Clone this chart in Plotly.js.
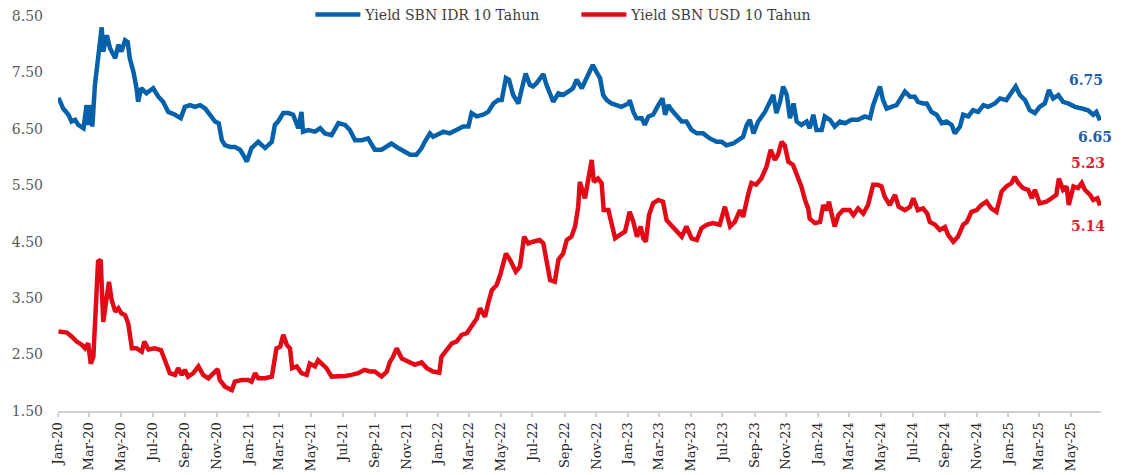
<!DOCTYPE html>
<html>
<head>
<meta charset="utf-8">
<script src="https://cdn.plot.ly/plotly-3.0.1.min.js"></script>
<style>
html,body{margin:0;padding:0;background:#fff;}
#chart{width:1127px;height:475px;}
</style>
</head>
<body>
<div id="chart"></div>
<script>
const idrName = "Yield SBN IDR 10 Tahun";
const usdName = "Yield SBN USD 10 Tahun";

const idrDates = [
'2020-01-02','2020-01-11','2020-01-21','2020-01-27','2020-02-03','2020-02-09','2020-02-19','2020-02-25','2020-02-28','2020-03-04',
'2020-03-07','2020-03-12','2020-03-18','2020-03-25','2020-03-28','2020-04-04','2020-04-10','2020-04-20','2020-04-26','2020-05-02',
'2020-05-09','2020-05-14','2020-05-18','2020-05-25','2020-05-31','2020-06-03','2020-06-09','2020-06-19','2020-07-02','2020-07-12',
'2020-07-21','2020-07-31','2020-08-13','2020-08-24','2020-09-01','2020-09-11','2020-09-20','2020-09-30','2020-10-10','2020-10-19',
'2020-10-29','2020-11-05','2020-11-11','2020-11-17','2020-11-27','2020-12-06','2020-12-16','2020-12-22','2020-12-29','2021-01-07',
'2021-01-20','2021-02-02','2021-02-15','2021-02-21','2021-02-27','2021-03-09','2021-03-19','2021-03-28','2021-04-07','2021-04-13',
'2021-04-16','2021-04-26','2021-05-09','2021-05-19','2021-05-28','2021-06-10','2021-06-23','2021-07-06','2021-07-15','2021-07-25',
'2021-08-07','2021-08-19','2021-09-01','2021-09-14','2021-09-24','2021-10-03','2021-10-16','2021-10-26','2021-11-08','2021-11-20',
'2021-11-30','2021-12-06','2021-12-16','2021-12-22','2022-01-11','2022-01-23','2022-02-05','2022-02-18','2022-02-28','2022-03-06',
'2022-03-16','2022-03-28','2022-04-07','2022-04-17','2022-04-26','2022-05-03','2022-05-11','2022-05-17','2022-05-25','2022-06-04',
'2022-06-10','2022-06-18','2022-06-26','2022-07-02','2022-07-09','2022-07-22','2022-07-28','2022-08-04','2022-08-10','2022-08-20',
'2022-08-29','2022-09-08','2022-09-17','2022-09-24','2022-10-04','2022-10-10','2022-10-16','2022-10-25','2022-11-01','2022-11-08',
'2022-11-14','2022-11-21','2022-11-30','2022-12-10','2022-12-19','2023-01-02','2023-01-04','2023-01-11','2023-01-17','2023-01-27',
'2023-02-02','2023-02-09','2023-02-18','2023-02-28','2023-03-08','2023-03-13','2023-03-19','2023-03-26','2023-04-04','2023-04-14',
'2023-04-23','2023-05-03','2023-05-13','2023-05-25','2023-06-07','2023-06-20','2023-06-30','2023-07-09','2023-07-22','2023-08-01',
'2023-08-10','2023-08-17','2023-08-23','2023-08-30','2023-09-08','2023-09-21','2023-09-30','2023-10-07','2023-10-13','2023-10-20',
'2023-10-26','2023-11-02','2023-11-08','2023-11-15','2023-11-21','2023-11-30','2023-12-10','2023-12-16','2023-12-23','2023-12-29',
'2024-01-08','2024-01-14','2024-01-24','2024-02-02','2024-02-12','2024-02-22','2024-03-05','2024-03-18','2024-03-31','2024-04-10',
'2024-04-16','2024-04-23','2024-04-29','2024-05-05','2024-05-12','2024-05-21','2024-05-31','2024-06-06','2024-06-16','2024-06-26',
'2024-07-05','2024-07-11','2024-07-21','2024-07-28','2024-08-06','2024-08-16','2024-08-26','2024-09-04','2024-09-14','2024-09-20',
'2024-09-30','2024-10-06','2024-10-16','2024-10-25','2024-11-04','2024-11-14','2024-11-23','2024-12-06','2024-12-16','2024-12-28',
'2025-01-07','2025-01-15','2025-01-23','2025-02-02','2025-02-11','2025-02-21','2025-03-02','2025-03-12','2025-03-20','2025-03-28',
'2025-04-07','2025-04-16','2025-04-26','2025-05-09','2025-05-22','2025-06-03','2025-06-13','2025-06-19','2025-06-26'
];
const idrValues = [
7.05,6.86,6.75,6.63,6.66,6.57,6.51,6.92,6.57,6.92,
6.54,7.28,7.75,8.30,7.87,8.16,7.93,7.75,7.99,7.87,
8.07,8.04,7.75,7.51,7.22,6.98,7.22,7.13,7.22,7.07,
6.98,6.80,6.75,6.69,6.89,6.92,6.89,6.92,6.86,6.75,
6.63,6.60,6.30,6.21,6.18,6.18,6.13,6.04,5.92,6.16,
6.27,6.16,6.27,6.57,6.63,6.78,6.78,6.75,6.51,6.80,
6.45,6.48,6.45,6.51,6.42,6.39,6.60,6.57,6.48,6.30,
6.30,6.33,6.13,6.13,6.18,6.24,6.16,6.10,6.04,6.04,
6.16,6.27,6.42,6.36,6.45,6.42,6.48,6.54,6.54,6.78,
6.72,6.75,6.80,6.95,7.01,7.01,7.40,7.37,7.10,6.95,
7.19,7.48,7.28,7.25,7.31,7.47,7.28,7.13,6.98,7.13,
7.10,7.16,7.22,7.37,7.22,7.34,7.45,7.63,7.51,7.40,
7.10,7.01,6.95,6.92,6.89,6.95,7.01,6.80,6.69,6.69,
6.57,6.72,6.75,6.92,7.04,6.75,6.92,6.83,6.72,6.63,
6.63,6.48,6.42,6.42,6.33,6.27,6.27,6.21,6.24,6.30,
6.36,6.57,6.66,6.42,6.63,6.80,6.98,7.10,6.78,6.98,
7.25,7.10,6.69,6.95,6.63,6.57,6.63,6.51,6.75,6.48,
6.48,6.72,6.66,6.54,6.63,6.60,6.66,6.66,6.72,6.69,
6.92,7.10,7.25,7.01,6.86,6.89,6.92,7.01,7.16,7.07,
7.07,6.98,6.95,6.95,6.80,6.75,6.60,6.63,6.57,6.42,
6.54,6.75,6.72,6.83,6.80,6.92,6.89,6.95,7.04,7.01,
7.13,7.25,7.10,7.01,6.83,6.78,6.89,6.95,7.19,7.04,
7.10,6.98,6.95,6.89,6.86,6.83,6.75,6.80,6.65
];

const usdDates = [
'2020-01-02','2020-01-18','2020-01-27','2020-02-06','2020-02-16','2020-02-22','2020-02-28','2020-03-04','2020-03-09','2020-03-13',
'2020-03-18','2020-03-23','2020-03-28','2020-04-02','2020-04-08','2020-04-13','2020-04-20','2020-04-26','2020-05-02','2020-05-09',
'2020-05-15','2020-05-22','2020-05-31','2020-06-10','2020-06-15','2020-06-23','2020-07-05','2020-07-17','2020-07-25','2020-08-03',
'2020-08-13','2020-08-19','2020-08-26','2020-09-01','2020-09-07','2020-09-17','2020-09-27','2020-10-06','2020-10-16','2020-10-25',
'2020-11-03','2020-11-07','2020-11-17','2020-11-30','2020-12-06','2020-12-19','2021-01-01','2021-01-07','2021-01-14','2021-01-20',
'2021-02-02','2021-02-15','2021-02-24','2021-03-03','2021-03-09','2021-03-16','2021-03-22','2021-03-26','2021-04-04','2021-04-13',
'2021-04-23','2021-04-29','2021-05-09','2021-05-15','2021-05-22','2021-05-31','2021-06-10','2021-06-23','2021-07-06','2021-07-18',
'2021-07-31','2021-08-12','2021-08-23','2021-09-01','2021-09-14','2021-09-24','2021-09-30','2021-10-06','2021-10-13','2021-10-23',
'2021-10-29','2021-11-08','2021-11-17','2021-11-30','2021-12-10','2021-12-22','2022-01-03','2022-01-07','2022-01-17','2022-01-27',
'2022-02-05','2022-02-15','2022-02-25','2022-03-06','2022-03-16','2022-03-22','2022-04-01','2022-04-07','2022-04-14','2022-04-23',
'2022-04-30','2022-05-11','2022-05-19','2022-05-30','2022-06-07','2022-06-15','2022-06-23','2022-07-02','2022-07-15','2022-07-22',
'2022-07-28','2022-08-04','2022-08-13','2022-08-20','2022-08-29','2022-09-05','2022-09-14','2022-09-21','2022-09-27','2022-09-30',
'2022-10-10','2022-10-16','2022-10-23','2022-10-27','2022-11-04','2022-11-11','2022-11-15','2022-11-24','2022-11-30','2022-12-07',
'2022-12-16','2022-12-26','2023-01-04','2023-01-11','2023-01-18','2023-01-25','2023-01-30','2023-02-04','2023-02-10','2023-02-18',
'2023-02-28','2023-03-09','2023-03-16','2023-03-26','2023-04-04','2023-04-14','2023-04-23','2023-05-03','2023-05-13','2023-05-22',
'2023-06-01','2023-06-13','2023-06-26','2023-07-06','2023-07-16','2023-07-25','2023-08-04','2023-08-10','2023-08-20','2023-08-26',
'2023-09-04','2023-09-14','2023-09-24','2023-10-02','2023-10-10','2023-10-16','2023-10-23','2023-10-29','2023-11-05','2023-11-14',
'2023-11-24','2023-11-30','2023-12-07','2023-12-13','2023-12-16','2023-12-26','2024-01-05','2024-01-11','2024-01-18','2024-01-22',
'2024-01-27','2024-02-02','2024-02-09','2024-02-18','2024-03-02','2024-03-09','2024-03-18','2024-03-28','2024-04-06','2024-04-16',
'2024-04-25','2024-05-02','2024-05-08','2024-05-18','2024-05-28','2024-06-04','2024-06-16','2024-06-26','2024-07-02','2024-07-11',
'2024-07-21','2024-07-29','2024-08-03','2024-08-13','2024-08-22','2024-09-01','2024-09-07','2024-09-17','2024-09-26','2024-10-06',
'2024-10-13','2024-10-22','2024-11-01','2024-11-10','2024-11-20','2024-11-29','2024-12-09','2024-12-19','2024-12-28','2025-01-07',
'2025-01-13','2025-01-20','2025-01-29','2025-02-08','2025-02-15','2025-02-21','2025-03-02','2025-03-15','2025-03-25','2025-04-03',
'2025-04-08','2025-04-16','2025-04-23','2025-04-27','2025-05-06','2025-05-15','2025-05-22','2025-05-28','2025-06-07','2025-06-13',
'2025-06-21','2025-06-26'
];
const usdValues = [
2.91,2.89,2.82,2.73,2.67,2.61,2.70,2.34,2.46,3.17,
4.15,4.18,3.08,3.41,3.79,3.47,3.26,3.32,3.23,3.20,
3.05,2.61,2.61,2.55,2.73,2.59,2.61,2.58,2.40,2.17,
2.14,2.26,2.14,2.23,2.11,2.17,2.29,2.14,2.08,2.17,
2.24,2.05,1.93,1.87,2.02,2.05,2.05,2.02,2.17,2.08,
2.08,2.11,2.61,2.64,2.85,2.67,2.61,2.26,2.29,2.17,
2.14,2.34,2.29,2.40,2.34,2.26,2.11,2.11,2.12,2.14,
2.17,2.23,2.20,2.20,2.11,2.20,2.37,2.46,2.61,2.43,
2.40,2.37,2.32,2.36,2.26,2.20,2.18,2.46,2.58,2.70,
2.73,2.85,2.88,2.99,3.14,3.32,3.17,3.41,3.64,3.73,
3.91,4.29,4.18,3.97,4.06,4.59,4.47,4.50,4.53,4.47,
4.12,3.82,3.79,4.18,4.29,4.53,4.59,4.77,5.12,5.56,
5.27,5.54,5.95,5.56,5.62,5.54,5.06,5.06,4.80,4.56,
4.62,4.68,5.03,4.85,4.59,4.77,4.56,4.50,4.97,5.18,
5.24,5.21,4.88,4.77,4.68,4.59,4.77,4.56,4.53,4.74,
4.80,4.83,4.80,5.12,4.77,4.85,5.06,4.94,5.35,5.54,
5.51,5.62,5.83,6.13,5.95,6.04,6.27,6.21,5.92,5.86,
5.62,5.48,5.24,5.09,4.91,4.83,4.85,5.15,5.06,5.21,
5.00,4.77,4.97,5.06,5.06,4.97,5.09,5.00,5.15,5.51,
5.51,5.48,5.30,5.15,5.33,5.12,5.06,5.12,5.27,5.06,
5.09,5.00,4.85,4.80,4.71,4.76,4.62,4.50,4.59,4.80,
4.85,5.03,5.06,5.15,5.21,5.09,5.03,5.39,5.48,5.54,
5.65,5.54,5.45,5.42,5.27,5.42,5.18,5.21,5.27,5.33,
5.62,5.42,5.48,5.15,5.48,5.45,5.54,5.42,5.33,5.24,
5.27,5.14
];

const lastLabels = ["6.75", "6.65", "5.23", "5.14"];
const idrColor = "#0562aa";
const usdColor = "#e30a17";
const font = "DejaVu Serif, Liberation Serif, serif";

const traces = [
  {x: idrDates, y: idrValues, type: "scatter", mode: "lines", name: idrName,
   line: {color: idrColor, width: 4.5}},
  {x: usdDates, y: usdValues, type: "scatter", mode: "lines", name: usdName,
   line: {color: usdColor, width: 4.5}}
];

function label(x, y, text, color) {
  return {xref: "paper", yref: "paper", x: x, y: y, xanchor: "center", yanchor: "middle",
          text: "<b>" + text + "</b>", showarrow: false,
          font: {family: font, size: 14, color: color}};
}

const layout = {
  width: 1127, height: 475,
  margin: {l: 58, r: 26, t: 16, b: 64, pad: 0, autoexpand: false},
  paper_bgcolor: "#fff", plot_bgcolor: "#fff",
  font: {family: font, size: 14, color: "#404040"},
  showlegend: true,
  legend: {orientation: "h", x: 0.497, xanchor: "center", y: 1.0025, yanchor: "middle",
           font: {family: font, size: 14, color: "#404040"}, itemwidth: 45,
           entrywidth: 206, entrywidthmode: "pixels",
           bgcolor: "rgba(0,0,0,0)"},
  xaxis: {type: "date", range: ["2020-01-01", "2025-06-28"], automargin: false,
          tick0: "2020-01-01", dtick: "M2", tickformat: "%b-%y", tickangle: -90,
          ticks: "outside", ticklen: 4, tickwidth: 2, tickcolor: "#d0d0d0",
          showline: true, linecolor: "#d0d0d0", linewidth: 2,
          showgrid: false, zeroline: false,
          tickfont: {family: font, size: 13, color: "#262626"}},
  yaxis: {range: [1.5, 8.5], tick0: 1.5, dtick: 1, tickformat: ".2f", automargin: false,
          showgrid: false, zeroline: false, showline: false, ticks: "",
          ticklabelstandoff: 14,
          tickfont: {family: font, size: 14, color: "#595959"}},
  annotations: [
    label(0.9853, 0.838, lastLabels[0], "#1f5ea8"),
    label(0.9938, 0.6944, lastLabels[1], "#1f5ea8"),
    label(0.9871, 0.6278, lastLabels[2], "#e3202c"),
    label(0.9871, 0.4684, lastLabels[3], "#e3202c")
  ]
};

Plotly.newPlot("chart", traces, layout, {displayModeBar: false, staticPlot: true});
</script>
</body>
</html>
